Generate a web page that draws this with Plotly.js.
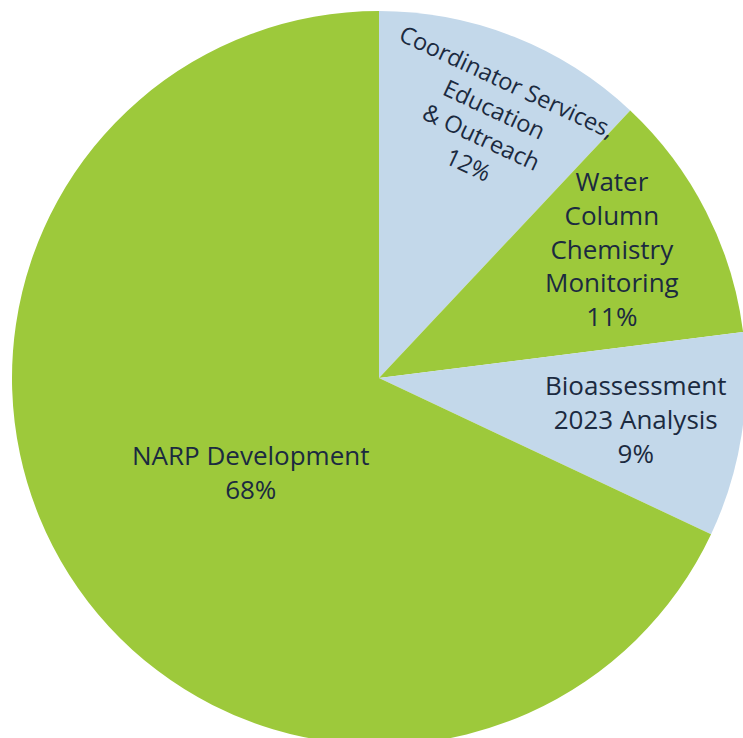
<!DOCTYPE html>
<html>
<head>
<meta charset="utf-8">
<script src="https://cdn.plot.ly/plotly-3.0.1.min.js"></script>
<style>
html,body{margin:0;padding:0;overflow:hidden;background:#fff;}
#chart{width:758px;height:756px;}
</style>
</head>
<body>
<div id="chart"></div>
<script>
const labels = ["Coordinator Services,<br>Education<br>& Outreach", "Water<br>Column<br>Chemistry<br>Monitoring", "Bioassessment<br>2023 Analysis", "NARP Development"];
const values = [12, 11, 9, 68];
const colors = ["#C3D8EA", "#9DC93B", "#C3D8EA", "#9DC93B"];

// label placement (style only): pixel centres, text angles, font sizes
const labelPx = [[488, 123], [612, 249], [636, 419], [251, 472]];
const labelAngle = [25, 0, 0, 0];
const labelSize = [23.5, 26, 26, 26];

const W = 758, H = 756, M = {l: 12, r: 12, t: 10, b: 10};
const pw = W - M.l - M.r, ph = H - M.t - M.b;
const total = values.reduce((a, b) => a + b, 0);

const annotations = labels.map((lab, i) => ({
  text: lab + "<br>" + Math.round(values[i] / total * 100) + "%",
  xref: "paper", yref: "paper",
  x: (labelPx[i][0] - M.l) / pw,
  y: 1 - (labelPx[i][1] - M.t) / ph,
  xanchor: "center", yanchor: "middle",
  showarrow: false,
  textangle: labelAngle[i],
  align: "center",
  font: {family: "Open Sans", size: labelSize[i], color: "#1B2A40"}
}));

Plotly.newPlot("chart", [{
  type: "pie",
  labels: labels,
  values: values,
  sort: false,
  direction: "clockwise",
  rotation: 0,
  marker: {colors: colors, line: {width: 0}},
  textinfo: "none",
  hoverinfo: "none"
}], {
  width: W, height: H,
  margin: M,
  showlegend: false,
  paper_bgcolor: "#fff",
  annotations: annotations
}, {staticPlot: true});
</script>
</body>
</html>
